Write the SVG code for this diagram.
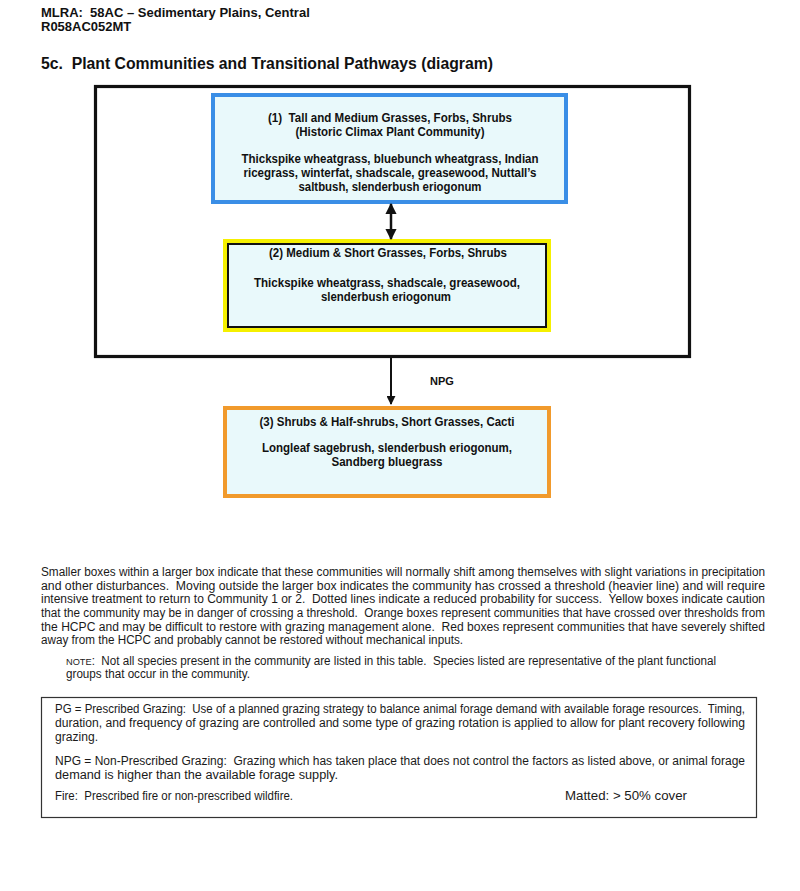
<svg xmlns="http://www.w3.org/2000/svg" width="800" height="891" viewBox="0 0 800 891" xml:space="preserve">
<defs>
<style>
text{white-space:pre}
.h{font-family:"Liberation Sans",Arial,sans-serif;font-weight:bold;fill:#111}
.b{font-family:"Liberation Sans",Arial,sans-serif;font-weight:bold;font-size:12px;fill:#111;text-anchor:middle}
.p{font-family:"Liberation Sans",Arial,sans-serif;font-size:12px;fill:#1a1a1a}
.box{fill:#e9f9fb}
</style>
<marker id="ah" viewBox="0 0 10 10" refX="9" refY="5" markerWidth="4.5" markerHeight="4.5" orient="auto-start-reverse">
<path d="M0,0 L10,5 L0,10 z" fill="#111"/>
</marker>
</defs>
<rect width="800" height="891" fill="#fff"/>
<g id="header">
<text class="h" x="41" y="17" font-size="13">MLRA:  58AC – Sedimentary Plains, Central</text>
<text class="h" x="41" y="31" font-size="13">R058AC052MT</text>
<text class="h" x="41" y="69" font-size="16" textLength="452" lengthAdjust="spacingAndGlyphs">5c.  Plant Communities and Transitional Pathways (diagram)</text>
</g>
<g id="outer-box">
<rect x="95.5" y="86.5" width="594" height="270" fill="none" stroke="#111" stroke-width="3.2"/>
</g>
<g id="community-1">
<rect class="box" x="213" y="95" width="353" height="107" stroke="#3a8ee6" stroke-width="4"/>
<text class="b" x="390" y="122" textLength="244" lengthAdjust="spacingAndGlyphs">(1)  Tall and Medium Grasses, Forbs, Shrubs</text>
<text class="b" x="390" y="136" textLength="189" lengthAdjust="spacingAndGlyphs">(Historic Climax Plant Community)</text>
<text class="b" x="390" y="163" textLength="297" lengthAdjust="spacingAndGlyphs">Thickspike wheatgrass, bluebunch wheatgrass, Indian</text>
<text class="b" x="390" y="177" textLength="293" lengthAdjust="spacingAndGlyphs">ricegrass, winterfat, shadscale, greasewood, Nuttall’s</text>
<text class="b" x="390" y="191" textLength="183" lengthAdjust="spacingAndGlyphs">saltbush, slenderbush eriogonum</text>
</g>
<g id="community-2">
<rect x="223" y="239" width="328" height="93" fill="#f5f000"/>
<rect class="box" x="228" y="244" width="318" height="83" stroke="#111" stroke-width="2"/>
<text class="b" x="388" y="257" textLength="238" lengthAdjust="spacingAndGlyphs">(2) Medium &amp; Short Grasses, Forbs, Shrubs</text>
<text class="b" x="387" y="287" textLength="266" lengthAdjust="spacingAndGlyphs">Thickspike wheatgrass, shadscale, greasewood,</text>
<text class="b" x="386" y="301" textLength="130" lengthAdjust="spacingAndGlyphs">slenderbush eriogonum</text>
</g>
<g id="community-3">
<rect class="box" x="225" y="408" width="324" height="88" stroke="#f19a2c" stroke-width="4"/>
<text class="b" x="387" y="426" textLength="255" lengthAdjust="spacingAndGlyphs">(3) Shrubs &amp; Half-shrubs, Short Grasses, Cacti</text>
<text class="b" x="387" y="452" textLength="250" lengthAdjust="spacingAndGlyphs">Longleaf sagebrush, slenderbush eriogonum,</text>
<text class="b" x="387" y="466" textLength="111" lengthAdjust="spacingAndGlyphs">Sandberg bluegrass</text>
</g>
<g id="connectors">
<line x1="391" y1="204" x2="391" y2="239" stroke="#111" stroke-width="2.5" marker-start="url(#ah)" marker-end="url(#ah)"/>
<line x1="391" y1="358" x2="391" y2="404" stroke="#111" stroke-width="2" marker-end="url(#ah)"/>
<text class="h" x="430" y="385" font-size="11">NPG</text>
</g>
<g id="explanation">
<text class="p" x="41" y="576" textLength="724" lengthAdjust="spacingAndGlyphs">Smaller boxes within a larger box indicate that these communities will normally shift among themselves with slight variations in precipitation</text>
<text class="p" x="41" y="590" textLength="724" lengthAdjust="spacingAndGlyphs">and other disturbances.  Moving outside the larger box indicates the community has crossed a threshold (heavier line) and will require</text>
<text class="p" x="41" y="603" textLength="724" lengthAdjust="spacingAndGlyphs">intensive treatment to return to Community 1 or 2.  Dotted lines indicate a reduced probability for success.  Yellow boxes indicate caution</text>
<text class="p" x="41" y="617" textLength="724" lengthAdjust="spacingAndGlyphs">that the community may be in danger of crossing a threshold.  Orange boxes represent communities that have crossed over thresholds from</text>
<text class="p" x="41" y="631" textLength="724" lengthAdjust="spacingAndGlyphs">the HCPC and may be difficult to restore with grazing management alone.  Red boxes represent communities that have severely shifted</text>
<text class="p" x="41" y="644" textLength="422" lengthAdjust="spacingAndGlyphs">away from the HCPC and probably cannot be restored without mechanical inputs.</text>
<text class="p" x="66" y="665" textLength="650" lengthAdjust="spacingAndGlyphs"><tspan font-size="9.5">NOTE</tspan>:  Not all species present in the community are listed in this table.  Species listed are representative of the plant functional</text>
<text class="p" x="66" y="678" textLength="184" lengthAdjust="spacingAndGlyphs">groups that occur in the community.</text>
</g>
<g id="legend">
<rect x="41.5" y="697.5" width="715" height="120" fill="none" stroke="#333" stroke-width="1.2"/>
<text class="p" x="55" y="713" textLength="690" lengthAdjust="spacingAndGlyphs">PG = Prescribed Grazing:  Use of a planned grazing strategy to balance animal forage demand with available forage resources.  Timing,</text>
<text class="p" x="55" y="727" textLength="690" lengthAdjust="spacingAndGlyphs">duration, and frequency of grazing are controlled and some type of grazing rotation is applied to allow for plant recovery following</text>
<text class="p" x="55" y="741" textLength="43" lengthAdjust="spacingAndGlyphs">grazing.</text>
<text class="p" x="55" y="765" textLength="690" lengthAdjust="spacingAndGlyphs">NPG = Non-Prescribed Grazing:  Grazing which has taken place that does not control the factors as listed above, or animal forage</text>
<text class="p" x="55" y="779" textLength="283" lengthAdjust="spacingAndGlyphs">demand is higher than the available forage supply.</text>
<text class="p" x="55" y="800" textLength="238" lengthAdjust="spacingAndGlyphs">Fire:  Prescribed fire or non-prescribed wildfire.</text>
<text class="p" x="565" y="800" textLength="122" lengthAdjust="spacingAndGlyphs">Matted: &gt; 50% cover</text>
</g>
</svg>
